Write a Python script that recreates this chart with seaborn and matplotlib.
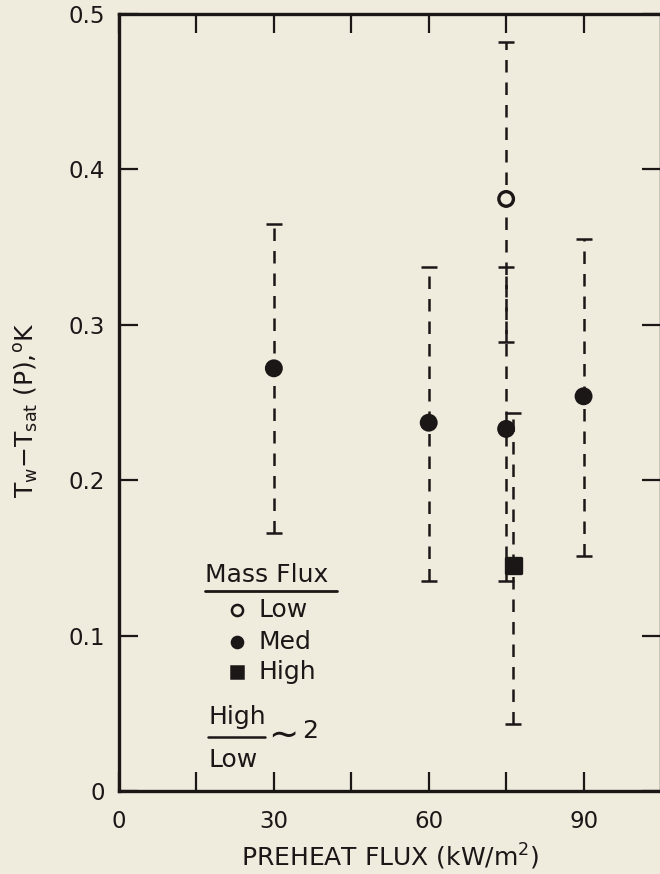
import matplotlib
matplotlib.use("Agg")
import matplotlib.pyplot as plt
import pandas as pd
import seaborn as sns

# ---------------------------------------------------------
# Data
# ---------------------------------------------------------
preheat_flux = [30, 60, 75, 75, 76.4, 90]
mass_flux = ["Med", "Med", "Low", "Med", "High", "Med"]
dT_mean = [0.272, 0.237, 0.381, 0.233, 0.145, 0.254]
dT_low = [0.166, 0.135, 0.289, 0.135, 0.043, 0.151]
dT_high = [0.365, 0.337, 0.482, 0.337, 0.243, 0.355]

x_ticks = [0, 15, 30, 45, 60, 75, 90]
x_ticklabels = ["0", "", "30", "", "60", "", "90"]
y_ticks = [0, 0.1, 0.2, 0.3, 0.4, 0.5]
y_ticklabels = ["0", "0.1", "0.2", "0.3", "0.4", "0.5"]

df = pd.DataFrame({
    "flux": preheat_flux,
    "mass": mass_flux,
    "dT": dT_mean,
    "lo": dT_low,
    "hi": dT_high,
})

BG = "#efebdd"
INK = "#1c1717"

sns.set_theme(style="ticks")
plt.rcParams["font.family"] = ["DejaVu Sans"]
plt.rcParams["mathtext.default"] = "regular"

fig = plt.figure(figsize=(6.6, 8.74), dpi=100, facecolor=BG)
ax = fig.add_axes([119 / 660, 83 / 874, 542 / 660, 777 / 874])
ax.set_facecolor(BG)

# dashed error bars with single-sided caps
eb = ax.errorbar(
    df["flux"], df["dT"],
    yerr=[df["dT"] - df["lo"], df["hi"] - df["dT"]],
    fmt="none", ecolor=INK, elinewidth=1.8, capsize=6, capthick=1.8, zorder=2,
)
for lc in eb[2]:
    lc.set_linestyle((0, (5, 4)))

sns.scatterplot(
    data=df, x="flux", y="dT", hue="mass", style="mass",
    palette={"Low": BG, "Med": INK, "High": INK},
    markers={"Low": "o", "Med": "o", "High": "s"},
    s=110, edgecolor=INK, linewidth=2.4, legend=False, zorder=3, ax=ax,
)

ax.set_xlim(0, 105)
ax.set_ylim(0, 0.5)
ax.set_xticks(x_ticks)
ax.set_xticklabels(x_ticklabels)
ax.set_yticks(y_ticks)
ax.set_yticklabels(y_ticklabels)
ax.tick_params(direction="in", length=14, width=1.6, color=INK, labelcolor=INK,
               labelsize=16.5, top=True, right=True)
ax.tick_params(axis="y", pad=10)
ax.tick_params(axis="x", pad=14)
for sp in ax.spines.values():
    sp.set_linewidth(2.4)
    sp.set_color(INK)

ax.set_xlabel("PREHEAT FLUX (kW/m$^2$)", fontsize=18, color=INK, labelpad=6)
ax.set_ylabel(r"T$_w$$-$T$_{sat}$ (P),$^o$K", fontsize=18, color=INK, va="center")
ax.yaxis.set_label_coords(-0.170, 0.49)

# hand-drawn style legend box
tr = ax.transAxes
ax.text(0.158, 0.278, "Mass Flux", transform=tr, fontsize=18, color=INK,
        ha="left", va="center")
ax.plot([0.158, 0.402], [0.258, 0.258], transform=tr, color=INK, lw=2)
legend_rows = [("Low", "o", BG, 0.233), ("Med", "o", INK, 0.192), ("High", "s", INK, 0.153)]
for name, mk, fc, yy in legend_rows:
    ax.plot([0.217], [yy], transform=tr, marker=mk, ms=8, mfc=fc, mec=INK,
            mew=1.8, ls="none")
    ax.text(0.258, yy, name, transform=tr, fontsize=18, color=INK,
            ha="left", va="center")
ax.text(0.165, 0.095, "High", transform=tr, fontsize=18, color=INK, ha="left", va="center")
ax.plot([0.164, 0.27], [0.069, 0.069], transform=tr, color=INK, lw=1.8)
ax.text(0.165, 0.040, "Low", transform=tr, fontsize=18, color=INK, ha="left", va="center")
ax.text(0.275, 0.070, "\u223c", transform=tr, fontsize=26, color=INK, ha="left", va="center")
ax.text(0.338, 0.077, "2", transform=tr, fontsize=18, color=INK, ha="left", va="center")

fig.savefig("out.png", dpi=100, facecolor=BG)
